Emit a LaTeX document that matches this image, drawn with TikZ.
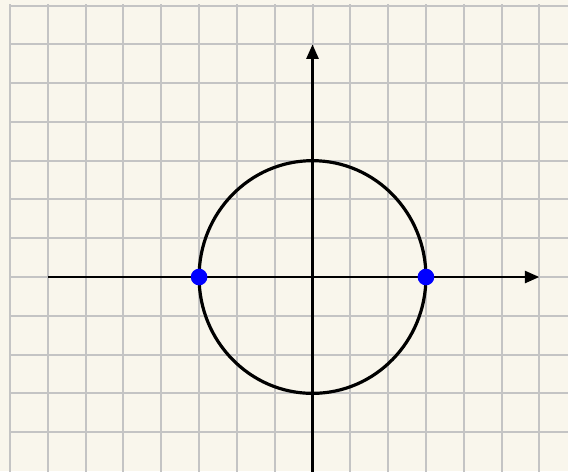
\documentclass[tikz,border=0pt]{standalone}
\usepackage{tikz}
\usetikzlibrary{arrows.meta}

\definecolor{paper}{RGB}{249,246,236}
\definecolor{gridline}{RGB}{196,196,196}

\begin{document}
\begin{tikzpicture}[x=1cm, y=1.0257cm,
  gridrule/.style={draw=gridline, line width=1.5pt},
  axis/.style={line width=2.2pt, -{Triangle[length=11pt, width=9pt]}},
  curve/.style={line width=2.4pt},
  pointdot/.style={circle, fill=blue, inner sep=0pt, minimum size=0.44cm}]

% --- Paper ---
\fill[paper] (-8.265,-5.003) rectangle (6.757,7.143);
\useasboundingbox (-8.265,-5.003) rectangle (6.757,7.143);

% --- Grid ---
\foreach \gx in {-8,...,6}
  \draw[gridrule] (\gx,-5.1) -- (\gx,7.05);
\foreach \gy in {-4,...,7}
  \draw[gridrule] (-8,\gy) -- (6.8,\gy);

% --- Axes ---
\coordinate (O) at (0,0);
\coordinate (xstart) at (-7,0);
\coordinate (xend) at (6,0);
\coordinate (ystart) at (0,-5.1);
\coordinate (yend) at (0,6);
\draw[axis] (xstart) -- (xend);
\draw[axis] (ystart) -- (yend);

% --- Circle and points ---
\draw[curve] (O) circle (3);
\node[pointdot] (left) at (-3,0) {};
\node[pointdot] (right) at (3,0) {};

\end{tikzpicture}
\end{document}
